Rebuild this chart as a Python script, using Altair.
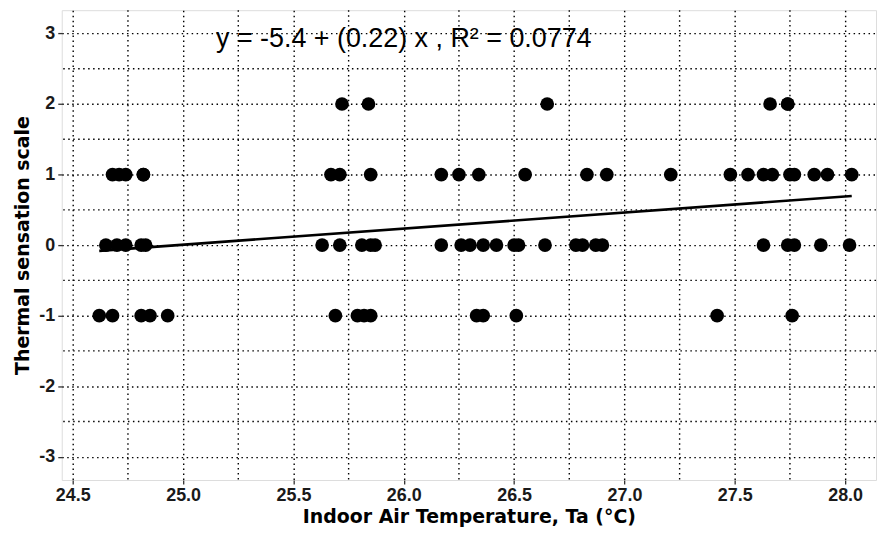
import altair as alt
import pandas as pd

# Indoor air temperature (°C) of each vote, grouped by thermal sensation vote
ta_plus2 = [25.72, 25.84, 26.65, 27.66, 27.74, 27.74]
ta_plus1 = [24.68, 24.71, 24.74, 24.82, 24.82, 25.67, 25.71, 25.85, 26.17, 26.25,
            26.34, 26.55, 26.83, 26.92, 27.21, 27.48, 27.56, 27.63, 27.67, 27.75,
            27.77, 27.86, 27.92, 28.03]
ta_zero = [24.65, 24.70, 24.74, 24.81, 24.83, 25.63, 25.71, 25.81, 25.85, 25.87,
           26.17, 26.26, 26.30, 26.36, 26.42, 26.50, 26.52, 26.64, 26.78, 26.81,
           26.87, 26.90, 27.63, 27.74, 27.77, 27.89, 28.02]
ta_minus1 = [24.62, 24.68, 24.81, 24.85, 24.93, 25.69, 25.79, 25.82, 25.85, 26.33,
             26.36, 26.51, 27.42, 27.76]

x_ticks = [24.5, 25.0, 25.5, 26.0, 26.5, 27.0, 27.5, 28.0]
x_minor = [24.75, 25.25, 25.75, 26.25, 26.75, 27.25, 27.75]
y_ticks = [-3, -2, -1, 0, 1, 2, 3]
y_minor = [-2.5, -1.5, -0.5, 0.5, 1.5, 2.5]
equation = "y = -5.4 + (0.22) x ,  R² = 0.0774"

rows = []
for lvl, vals in [(2, ta_plus2), (1, ta_plus1), (0, ta_zero), (-1, ta_minus1)]:
    for v in vals:
        rows.append({"ta": v, "tsv": lvl})
df = pd.DataFrame(rows)

xs = alt.Scale(domain=[24.45, 28.14], nice=False, zero=False)
ys = alt.Scale(domain=[-3.33, 3.33], nice=False, zero=False)

dash = [1.5, 3.5]
lab_font = "Liberation Sans"
title_font = "DejaVu Sans"

xaxis = alt.Axis(values=x_ticks, format=".1f", title="Indoor Air Temperature, Ta (°C)",
                 grid=True, gridDash=dash, gridColor="#000", gridWidth=1.4,
                 domain=False, tickColor="#333", tickSize=4, tickWidth=1.3,
                 labelFont=lab_font, labelFontSize=18, labelFontWeight="bold",
                 labelColor="#1a1a1a", labelPadding=3,
                 titleFont=title_font, titleFontSize=19, titleFontWeight="bold",
                 titleColor="#000", titlePadding=3)
yaxis = alt.Axis(values=y_ticks, labelExpr="toString(datum.value)",
                 title="Thermal sensation scale",
                 grid=True, gridDash=dash, gridColor="#000", gridWidth=1.4,
                 domain=False, tickColor="#333", tickSize=4, tickWidth=1.3,
                 labelFont=lab_font, labelFontSize=18, labelFontWeight="bold",
                 labelColor="#1a1a1a", labelPadding=3,
                 titleFont=title_font, titleFontSize=19, titleFontWeight="bold",
                 titleColor="#000", titlePadding=6)

base = alt.Chart(df)

points = base.mark_circle(size=190, color="#000", opacity=1).encode(
    x=alt.X("ta:Q", scale=xs, axis=xaxis),
    y=alt.Y("tsv:Q", scale=ys, axis=yaxis),
)

fit = base.transform_regression("ta", "tsv").mark_line(color="#000", strokeWidth=2.6).encode(
    x=alt.X("ta:Q", scale=xs),
    y=alt.Y("tsv:Q", scale=ys),
)

vgrid = alt.Chart(pd.DataFrame({"g": x_minor})).mark_rule(
    color="#000", strokeDash=dash, strokeWidth=1.4).encode(x=alt.X("g:Q", scale=xs))
hgrid = alt.Chart(pd.DataFrame({"g": y_minor})).mark_rule(
    color="#000", strokeDash=dash, strokeWidth=1.4).encode(y=alt.Y("g:Q", scale=ys))

label = alt.Chart(pd.DataFrame({"ta": [26.0], "tsv": [2.92], "t": [equation]})).mark_text(
    font="Liberation Sans", fontSize=27, color="#000", align="center", baseline="middle"
).encode(x=alt.X("ta:Q", scale=xs), y=alt.Y("tsv:Q", scale=ys), text="t:N")

chart = alt.layer(vgrid, hgrid, fit, points, label).properties(
    width=818, height=472, padding={"left": 5, "right": 0, "top": 0, "bottom": 0}
).configure_view(stroke=None).configure(background="white")

chart.save("out.html", embed_options={"renderer": "svg", "actions": False})
